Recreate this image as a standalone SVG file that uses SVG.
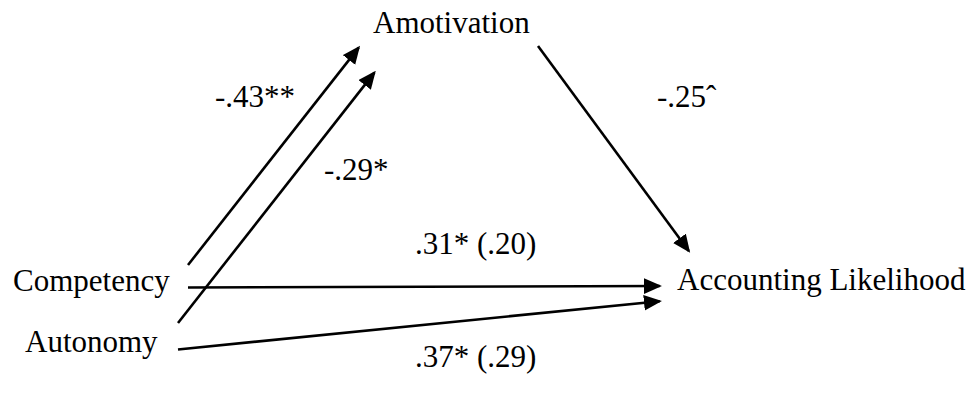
<svg xmlns="http://www.w3.org/2000/svg" width="979" height="396" viewBox="0 0 979 396">
<style>
text{font-family:"Liberation Serif","Times New Roman",serif;font-size:31px;fill:#000}
.c{stroke:#000;stroke-width:2.6;fill:none;marker-end:url(#ah)}
</style>
<defs>
<marker id="ah" markerUnits="userSpaceOnUse" markerWidth="18" markerHeight="16" refX="14" refY="7" orient="auto" viewBox="0 0 16 14">
<path d="M0,0 L16,7 L0,14 z" fill="#000"/>
</marker>
</defs>
<rect width="979" height="396" fill="#fff"/>
<g id="connectors">
<line class="c" x1="188" y1="265" x2="358.7" y2="47.6"/>
<line class="c" x1="178" y1="323" x2="374.4" y2="72.6"/>
<line class="c" x1="538" y1="46" x2="688.8" y2="251"/>
<line class="c" x1="188" y1="287.5" x2="659.7" y2="286"/>
<line class="c" x1="178" y1="349.5" x2="659.7" y2="301.2"/>
</g>
<g id="amotivation"><text x="373" y="33">Amotivation</text></g>
<g id="competency"><text x="13" y="291">Competency</text></g>
<g id="autonomy"><text x="25" y="352">Autonomy</text></g>
<g id="accounting"><text x="677" y="290">Accounting Likelihood</text></g>
<g id="labels">
<text x="215" y="107">-.43**</text>
<text x="324" y="180">-.29*</text>
<text x="657" y="107">-.25ˆ</text>
<text x="415" y="254">.31* (.20)</text>
<text x="415" y="367">.37* (.29)</text>
</g>
</svg>
